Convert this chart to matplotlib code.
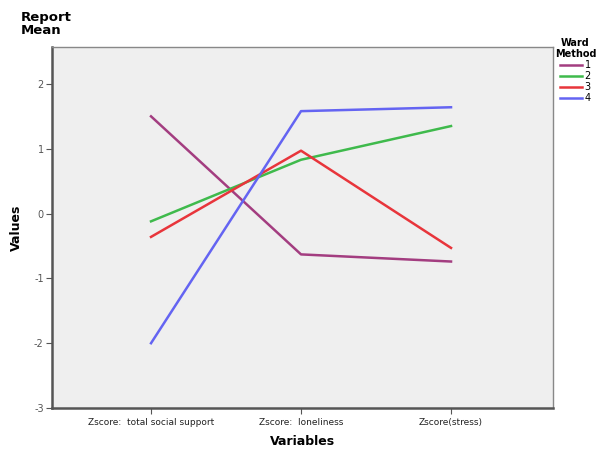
import matplotlib.pyplot as plt

plt.rcParams['axes.unicode_minus'] = False

# categorie e medie per cluster (Ward Method)
variables = ['Zscore:  total social support', 'Zscore:  loneliness', 'Zscore(stress)']
cluster_1 = [1.50, -0.63, -0.74]
cluster_2 = [-0.12, 0.83, 1.35]
cluster_3 = [-0.36, 0.97, -0.53]
cluster_4 = [-2.00, 1.58, 1.64]
cluster_labels = ['1', '2', '3', '4']
colors = ['#a33d80', '#3fba4c', '#e8353b', '#6464f2']

fig = plt.figure(figsize=(6, 4.53), dpi=100)
ax = fig.add_axes([0.0867, 0.0993, 0.835, 0.797])
ax.set_facecolor('#efefef')

x = range(len(variables))
for vals, lab, col in zip([cluster_1, cluster_2, cluster_3, cluster_4], cluster_labels, colors):
    ax.plot(x, vals, color=col, lw=1.8, label=lab)

ax.set_xlim(-0.66, 2.68)
ax.set_ylim(-3, 2.57)
ax.set_yticks([-3, -2, -1, 0, 1, 2])
ax.set_xticks(list(x))
ax.set_xticklabels(variables, fontsize=6.5)
ax.tick_params(axis='y', labelsize=7, colors='#555555', length=4, pad=2)
ax.tick_params(axis='x', length=4, colors='#555555', pad=3)
for lbl in ax.get_xticklabels():
    lbl.set_color('#222222')

for side in ['left', 'bottom']:
    ax.spines[side].set_linewidth(1.8)
    ax.spines[side].set_color('#555555')
for side in ['top', 'right']:
    ax.spines[side].set_linewidth(1)
    ax.spines[side].set_color('#888888')

ax.set_xlabel('Variables', fontsize=9, fontweight='bold', labelpad=6)
ax.set_ylabel('Values', fontsize=9, fontweight='bold', labelpad=8)

fig.text(0.035, 0.975, 'Report\nMean', fontsize=9.5, fontweight='bold',
         va='top', ha='left', linespacing=0.95)

leg = fig.legend(loc='upper left', bbox_to_anchor=(0.918, 0.925), frameon=False,
                 fontsize=7, title='Ward\nMethod', handlelength=2.2,
                 handletextpad=0.3, labelspacing=0.1, borderaxespad=0)
leg.get_title().set_fontweight('bold')
leg.get_title().set_fontsize(7)
leg.get_title().set_multialignment('center')

fig.savefig('out.png', dpi=100)
